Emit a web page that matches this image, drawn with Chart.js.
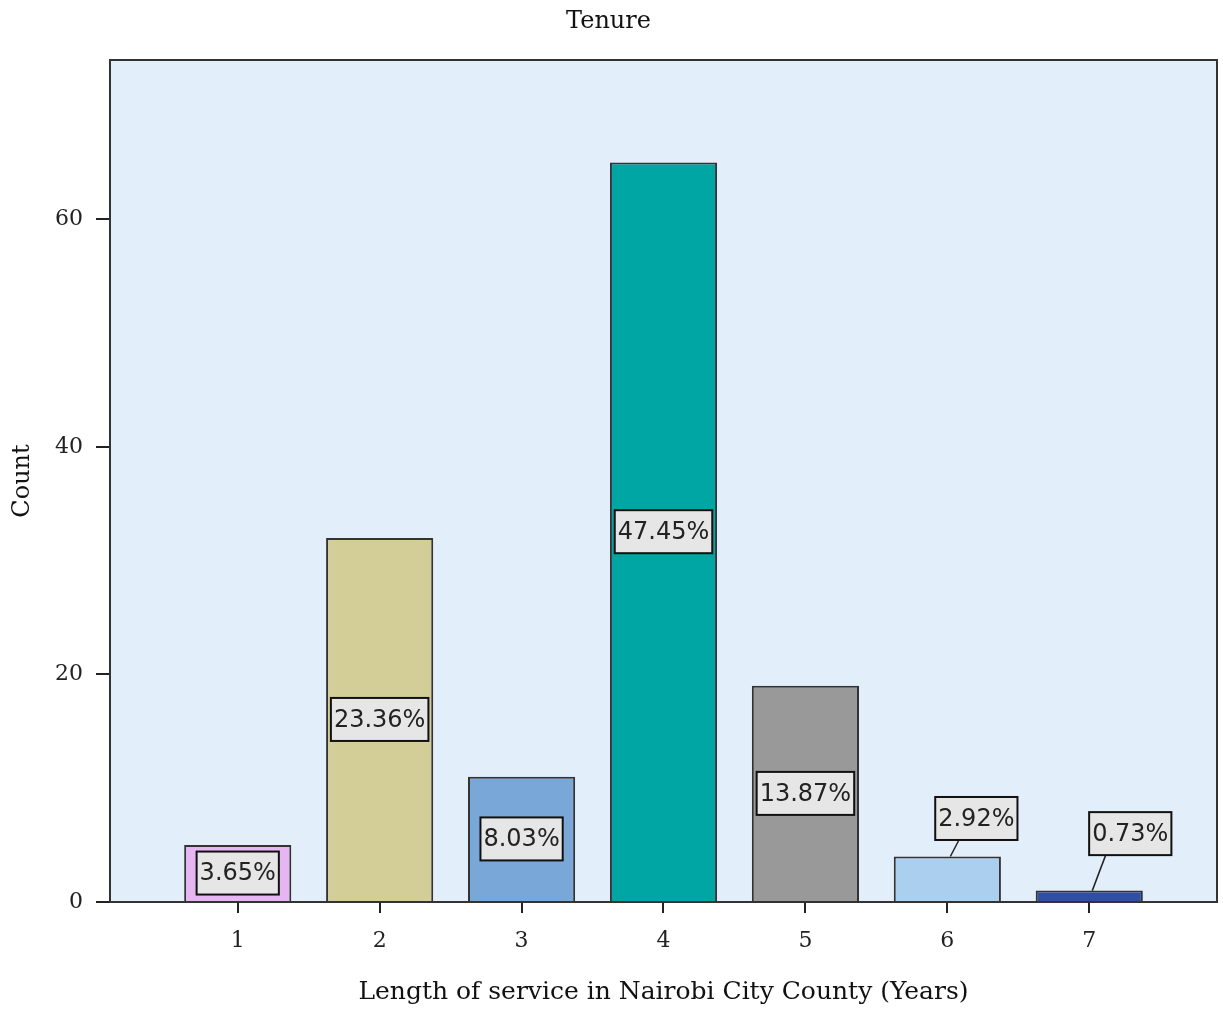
<!DOCTYPE html>
<html>
<head>
<meta charset="utf-8">
<script src="https://cdn.jsdelivr.net/npm/chart.js@4.4.1/dist/chart.umd.min.js"></script>
<style>
  html, body { margin: 0; padding: 0; background: #fff; }
  #wrap { width: 1223px; height: 1010px; }
</style>
</head>
<body>
<div id="wrap"><canvas id="chart" width="1223" height="1010"></canvas></div>
<script>
// data
const years = [1, 2, 3, 4, 5, 6, 7];
const counts = [5, 32, 11, 65, 19, 4, 1];
const percentLabels = ['3.65%', '23.36%', '8.03%', '47.45%', '13.87%', '2.92%', '0.73%'];
const barColors = ['#E6B6F2', '#D3CE97', '#79A8D8', '#00A6A3', '#999999', '#ABCFEE', '#2F4FA6'];
const yTicks = [0, 20, 40, 60];

const SERIF = '"DejaVu Serif", serif';

/* ===== plugins ===== */

const plotFrame = {
  id: 'plotFrame',
  beforeDatasetsDraw(chart) {
    const { ctx, chartArea: a } = chart;
    ctx.save();
    ctx.fillStyle = '#E2EEFA';
    ctx.fillRect(a.left, a.top, a.right - a.left, a.bottom - a.top);
    ctx.restore();
  },
  afterDraw(chart) {
    const { ctx, chartArea: a } = chart;
    ctx.save();
    ctx.strokeStyle = '#333';
    ctx.lineWidth = 2;
    ctx.strokeRect(a.left, a.top, a.right - a.left, a.bottom - a.top);
    ctx.restore();
  }
};

// callouts for the short bars sit above them with a leader line
const callouts = { 5: { dx: 29, dy: -38 }, 6: { dx: 41, dy: -57 } };

const pctLabels = {
  id: 'pctLabels',
  afterDatasetsDraw(chart) {
    const { ctx } = chart;
    const meta = chart.getDatasetMeta(0);
    ctx.save();
    ctx.font = '24px "DejaVu Sans", sans-serif';
    ctx.textAlign = 'center';
    ctx.textBaseline = 'middle';
    meta.data.forEach((bar, i) => {
      const text = percentLabels[i];
      const w = ctx.measureText(text).width + 6;
      const h = 43;
      let cx = bar.x;
      let cy = (bar.y + bar.base) / 2;
      const c = callouts[i];
      if (c) {
        cx = bar.x + c.dx;
        cy = bar.y + c.dy;
        ctx.strokeStyle = '#222';
        ctx.lineWidth = 1.5;
        ctx.beginPath();
        ctx.moveTo(bar.x + 3, bar.y);
        ctx.lineTo(bar.x + c.dx * 0.4, cy + h / 2);
        ctx.stroke();
      }
      ctx.fillStyle = '#E6E6E6';
      ctx.fillRect(cx - w / 2, cy - h / 2, w, h);
      ctx.strokeStyle = '#111';
      ctx.lineWidth = 2;
      ctx.strokeRect(cx - w / 2, cy - h / 2, w, h);
      ctx.fillStyle = '#222';
      ctx.fillText(text, cx, cy + 1);
    });
    ctx.restore();
  }
};

/* ===== chart ===== */

new Chart(document.getElementById('chart'), {
  type: 'bar',
  data: {
    datasets: [{
      data: years.map((y, i) => ({ x: y, y: counts[i] })),
      backgroundColor: barColors,
      borderColor: '#333',
      borderWidth: 2,
      barPercentage: 0.755,
      categoryPercentage: 1
    }]
  },
  options: {
    responsive: false,
    animation: false,
    layout: { padding: { left: 0, right: 6, top: 0, bottom: 0 } },
    plugins: {
      legend: { display: false },
      tooltip: { enabled: false },
      title: {
        display: true,
        text: 'Tenure',
        color: '#111',
        font: { family: SERIF, size: 24, weight: 'normal' },
        padding: { top: 7, bottom: 24.2 }
      }
    },
    scales: {
      x: {
        type: 'linear',
        min: 0.1,
        max: 7.9,
        offset: false,
        afterBuildTicks(axis) { axis.ticks = years.map(v => ({ value: v })); },
        afterFit(axis) { axis.height = 108; },
        border: { display: false },
        grid: { offset: false, drawOnChartArea: false, drawTicks: true, tickLength: 11, color: '#222', lineWidth: 2 },
        ticks: { color: '#222', padding: 15, font: { family: SERIF, size: 22 } },
        title: {
          display: true,
          text: 'Length of service in Nairobi City County (Years)',
          color: '#111',
          font: { family: SERIF, size: 25 },
          padding: { top: 0, bottom: 3 }
        }
      },
      y: {
        min: 0,
        max: 74,
        afterBuildTicks(axis) { axis.ticks = yTicks.map(v => ({ value: v })); },
        afterFit(axis) { axis.width = 110; },
        border: { display: false },
        grid: { drawOnChartArea: false, drawTicks: true, tickLength: 14, color: '#222', lineWidth: 2 },
        ticks: { color: '#222', padding: 13, font: { family: SERIF, size: 22 } },
        title: {
          display: true,
          text: 'Count',
          color: '#111',
          font: { family: SERIF, size: 24 },
          padding: { top: 8, bottom: 0 }
        }
      }
    }
  },
  plugins: [plotFrame, pctLabels]
});
</script>
</body>
</html>
